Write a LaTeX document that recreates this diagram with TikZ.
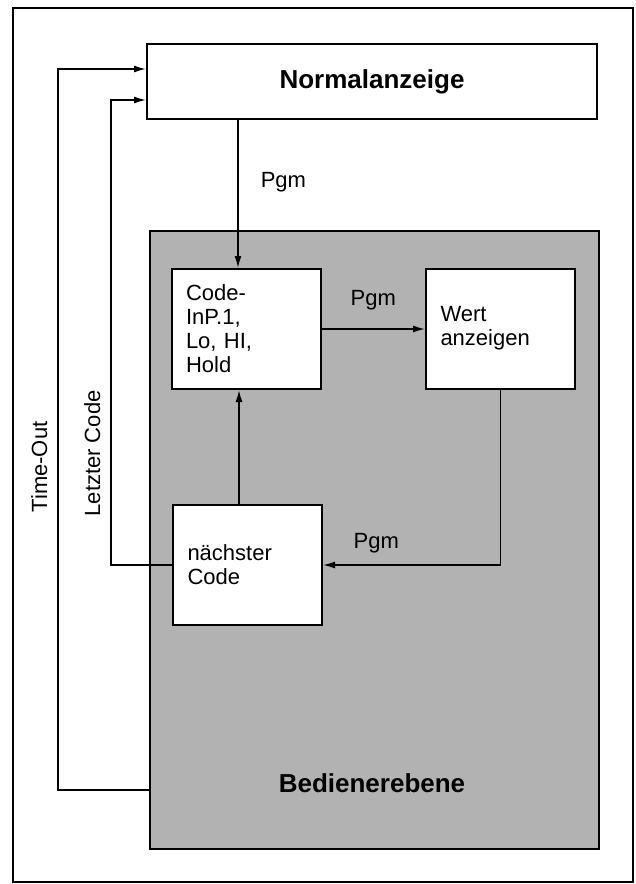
\documentclass[tikz,border=0pt]{standalone}
\usepackage{fontspec}
\setmainfont{Liberation Sans}
\usetikzlibrary{arrows.meta, positioning}
\definecolor{ScreenGray}{RGB}{178,178,178}

\begin{document}
\begin{tikzpicture}[x=0.5pt, y=-0.5pt,
    box/.style={draw, line width=1pt, fill=white, minimum width=74.5pt, minimum height=60pt,
                text width=60pt, inner xsep=7pt, align=left, font=\fontsize{11}{12}\selectfont},
    arr/.style={line width=0.75pt, -{Latex[length=6pt, width=3.5pt]}},
    lbl/.style={font=\fontsize{11}{12}\selectfont, inner sep=1pt},
    vlbl/.style={font=\fontsize{11}{12}\selectfont, inner sep=5pt, rotate=90, anchor=south},
    title/.style={font=\fontsize{13}{15}\selectfont\bfseries}]
  \useasboundingbox (0,0) rectangle (636,884);
  \draw[line width=1pt] (13,8) rectangle (633,882);

  \node[draw, line width=1pt, fill=ScreenGray, minimum width=224.5pt, minimum height=309pt] (bedien) at (374.5,540) {};
  \node[title] (bedlbl) at (372,783) {Bedienerebene};

  \node[draw, line width=1pt, fill=white, minimum width=225pt, minimum height=37.5pt, title] (norm) at (372,81.5) {Normalanzeige};
  \node[box] (code) at (246,329) {Code-\\InP.1,\\Lo, HI,\\Hold};
  \node[box] (wert) at (500.5,328.5) {Wert\\anzeigen};
  \node[box] (naechst) at (247.5,565) {nächster\\Code};

  \coordinate (cin) at ([xshift=-4pt]code.north);
  \coordinate (nup) at ([xshift=-4.25pt]naechst.north);

  \draw[arr] (cin |- norm.south) -- node[lbl, right=10pt, pos=0.42] {Pgm} (cin);
  \draw[arr] (code.east) -- node[lbl, above=8pt] {Pgm} (code.east -| wert.west);
  \draw[arr] (wert.south) |- node[lbl, pos=0.85, above=4.5pt] {Pgm} (naechst.east);
  \draw[arr] (nup) -- (nup |- code.south);
  \draw[arr] (naechst.west) -- ++(-61,0) |- node[vlbl, pos=0.12] {Letzter Code} ([yshift=-9.25pt]norm.west);
  \draw[arr] ([yshift=-125pt]bedien.west) -- ++(-91,0) |- node[vlbl, pos=0.224] {Time-Out} ([yshift=6.25pt]norm.west);
\end{tikzpicture}
\end{document}
